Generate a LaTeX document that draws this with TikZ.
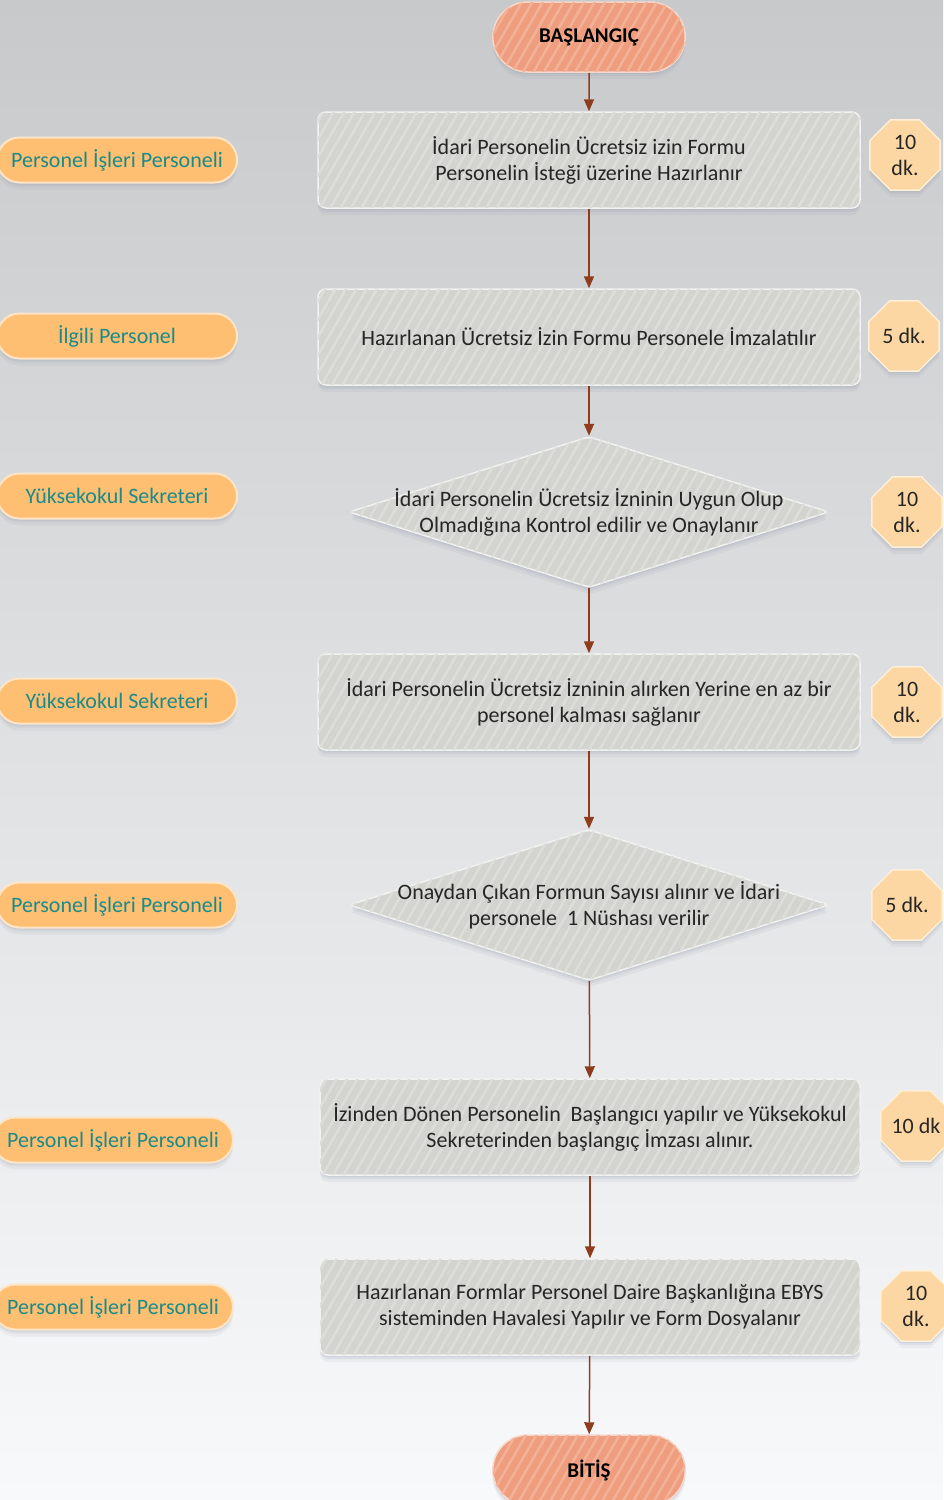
\documentclass[tikz,border=0pt]{standalone}
\usepackage{fontspec}
\setmainfont{Carlito}
\usetikzlibrary{shapes.geometric,shapes.misc,patterns.meta,shadows,arrows.meta}
\definecolor{bgtop}{HTML}{C8C9CB}
\definecolor{bgbot}{HTML}{F8F9FB}
\definecolor{boxfill}{HTML}{D3D4CF}
\definecolor{boxhatch}{HTML}{DDDEDA}
\definecolor{startfill}{HTML}{EE9E7E}
\definecolor{starthatch}{HTML}{F3B297}
\definecolor{rolefill}{HTML}{FEBF72}
\definecolor{roletext}{HTML}{1B8B89}
\definecolor{timefill}{HTML}{FDD7A3}
\definecolor{arrowcol}{HTML}{8E3C1C}
\definecolor{shadowcol}{HTML}{8A95A8}
\tikzset{
  softshadow/.style={
    general shadow={fill=shadowcol, opacity=0.10, shadow yshift=-7pt},
    general shadow={fill=shadowcol, opacity=0.12, shadow yshift=-4pt},
    general shadow={fill=shadowcol, opacity=0.15, shadow yshift=-2pt}},
  hatch/.style={postaction={pattern={Lines[angle=60,distance=9pt,line width=2.5pt]}, pattern color=#1}},
  stepbox/.style={rectangle, rounded corners=8pt, minimum width=542pt, minimum height=96pt,
    fill=boxfill, draw=white!70!boxfill, line width=1.5pt, softshadow, hatch=boxhatch},
  diabox/.style={diamond, minimum width=480pt, minimum height=151pt, inner sep=0pt, rounded corners=5pt,
    fill=boxfill, draw=white!70!boxfill, line width=1.5pt, softshadow, hatch=boxhatch},
  steptext/.style={align=center, font=\fontsize{22}{26}\selectfont, text=black!85},
  termbox/.style={rounded rectangle, minimum width=199pt, minimum height=70pt,
    fill=startfill, draw=white!60!startfill, line width=1.5pt, softshadow, hatch=starthatch,
    font=\fontsize{21}{24}\selectfont\bfseries, text=black},
  rolebox/.style={rounded rectangle, minimum width=240pt, minimum height=45pt, inner sep=0pt,
    fill=rolefill, draw=white!60!rolefill, line width=2pt, softshadow,
    font=\fontsize{22}{24}\selectfont, text=roletext},
  timebox/.style={regular polygon, regular polygon sides=8, minimum size=76pt, inner sep=0pt,
    fill=timefill, draw=white!60!timefill, line width=1.5pt, softshadow,
    align=center, font=\fontsize{22}{26}\selectfont, text=black!85},
  flow/.style={draw=arrowcol, line width=1.5pt, -{Triangle[length=12pt,width=10pt]}}
}
\begin{document}
\begin{tikzpicture}[x=1pt,y=-1pt]
\useasboundingbox (0,0) rectangle (943,1500);
\fill[top color=bgtop, bottom color=bgbot] (0,0) rectangle (943,1500);

% main flow
\node[termbox] (s) at (589,37) {BAŞLANGIÇ};
\node[stepbox, steptext] (b1) at (589,160) {İdari Personelin Ücretsiz izin Formu\\Personelin İsteği üzerine Hazırlanır};
\node[stepbox, steptext] (b2) at (589,337) {Hazırlanan Ücretsiz İzin Formu Personele İmzalatılır};
\node[diabox] (d1) at (589,512) {};
\node[steptext] (d1t) at (d1) {İdari Personelin Ücretsiz İzninin Uygun Olup\\Olmadığına Kontrol edilir ve Onaylanır};
\node[stepbox, steptext] (b3) at (589,702) {İdari Personelin Ücretsiz İzninin alırken Yerine en az bir\\personel kalması sağlanır};
\node[diabox] (d2) at (589,905) {};
\node[steptext] (d2t) at (d2) {Onaydan Çıkan Formun Sayısı alınır ve İdari\\personele\ \ 1 Nüshası verilir};
\node[stepbox, steptext, minimum width=540pt] (b4) at (590,1127) {İzinden Dönen Personelin\ \ Başlangıcı yapılır ve Yüksekokul\\Sekreterinden başlangıç İmzası alınır.};
\node[stepbox, steptext, minimum width=540pt] (b5) at (590,1307) {Hazırlanan Formlar Personel Daire Başkanlığına EBYS\\sisteminden Havalesi Yapılır ve Form Dosyalanır};
\node[termbox] (e) at (589,1470) {BİTİŞ};

\draw[flow] (s) -- (b1);
\draw[flow] (b1) -- (b2);
\draw[flow] (b2) -- (d1);
\draw[flow] (d1) -- (b3);
\draw[flow] (b3) -- (d2);
\draw[flow] (d2) -- (b4);
\draw[flow] (b4) -- (b5);
\draw[flow] (b5) -- (e);

% roles
\node[rolebox] (r1) at (117,160) {Personel İşleri Personeli};
\node[rolebox] (r2) at (117,336) {İlgili Personel};
\node[rolebox] (r3) at (117,496) {Yüksekokul Sekreteri};
\node[rolebox] (r4) at (117,701) {Yüksekokul Sekreteri};
\node[rolebox] (r5) at (117,905) {Personel İşleri Personeli};
\node[rolebox] (r6) at (113,1140) {Personel İşleri Personeli};
\node[rolebox] (r7) at (113,1307) {Personel İşleri Personeli};

% times
\node[timebox] (t1) at (905,155) {10\\dk.};
\node[timebox] (t2) at (904,336) {5 dk.};
\node[timebox] (t3) at (907,512) {10\\dk.};
\node[timebox] (t4) at (907,702) {10\\dk.};
\node[timebox] (t5) at (907,905) {5 dk.};
\node[timebox] (t6) at (916,1126) {10 dk};
\node[timebox] (t7) at (916,1306) {10\\dk.};
\end{tikzpicture}
\end{document}
